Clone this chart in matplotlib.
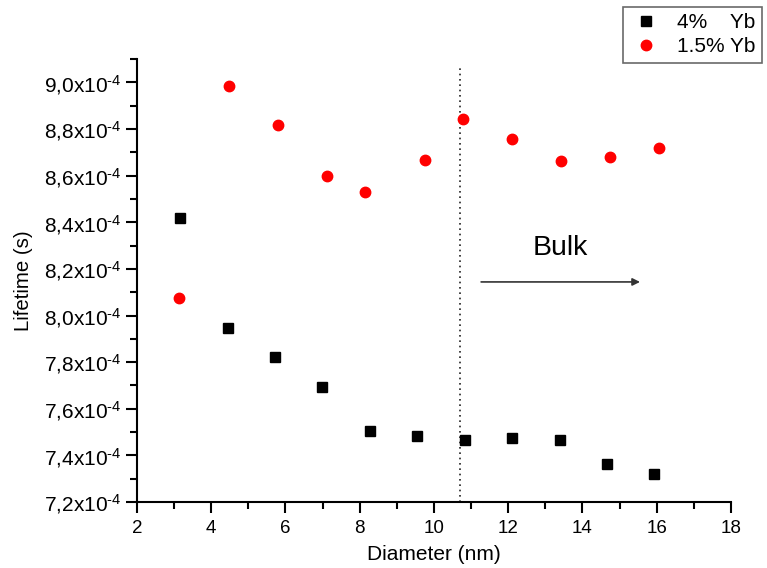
import numpy as np
import matplotlib
matplotlib.use("Agg")
import matplotlib.pyplot as plt
import matplotlib.ticker as mticker

# diameters (nm) and lifetimes (s)
d_4pct = [3.17, 4.45, 5.72, 6.99, 8.28, 9.55, 10.83, 12.10, 13.39, 14.66, 15.93]
tau_4pct = [8.417e-4, 7.946e-4, 7.823e-4, 7.693e-4, 7.504e-4, 7.485e-4, 7.466e-4,
            7.474e-4, 7.466e-4, 7.364e-4, 7.319e-4]
d_15pct = [3.14, 4.47, 5.79, 7.11, 8.13, 9.75, 10.77, 12.10, 13.41, 14.74, 16.06]
tau_15pct = [8.074e-4, 8.984e-4, 8.817e-4, 8.597e-4, 8.529e-4, 8.669e-4, 8.841e-4,
             8.759e-4, 8.664e-4, 8.679e-4, 8.720e-4]
labels = ["4%    Yb", "1.5% Yb"]
bulk_x = 10.69

plt.rcParams.update({
    "font.family": ["Liberation Sans", "DejaVu Sans"],
    "mathtext.fontset": "custom",
    "mathtext.rm": "Liberation Sans",
    "mathtext.it": "Liberation Sans",
    "font.size": 14,
})

fig = plt.figure(figsize=(7.67, 5.68), dpi=100)
ax = fig.add_axes([0.1786, 0.1162, 0.953 - 0.1786, 0.896 - 0.1162])

h1, = ax.plot(d_4pct, tau_4pct, "s", color="black", markersize=6.5, linestyle="none",
              label=labels[0], zorder=3)
h2, = ax.plot(d_15pct, tau_15pct, "o", color="#ff0000", markersize=7.5, linestyle="none",
              label=labels[1], zorder=3)

ax.plot([bulk_x, bulk_x], [7.2e-4, 9.07e-4], color="#222222", linestyle=(0, (1, 2.2)),
        linewidth=1.2, zorder=2)
ax.annotate("", xy=(15.55, 8.144e-4), xytext=(11.27, 8.144e-4),
            arrowprops=dict(arrowstyle="-|>", color="#333333", lw=1.2,
                            mutation_scale=11, shrinkA=0, shrinkB=0))
ax.text(13.39, 8.289e-4, "Bulk", fontsize=20.5, ha="center", va="center")

ax.set_xlim(2, 18)
ax.set_ylim(7.2e-4, 9.1e-4)
ax.xaxis.set_major_locator(mticker.MultipleLocator(2))
ax.xaxis.set_minor_locator(mticker.MultipleLocator(1))
ax.yaxis.set_major_locator(mticker.MultipleLocator(0.2e-4))
ax.yaxis.set_minor_locator(mticker.MultipleLocator(0.1e-4))
ax.yaxis.set_major_formatter(mticker.FuncFormatter(
    lambda v, _: (f"{v * 1e4:.1f}".replace(".", ",") + r"x10$^{\text{-4}}$")))

for spine in ("top", "right"):
    ax.spines[spine].set_visible(False)
for spine in ("left", "bottom"):
    ax.spines[spine].set_linewidth(1.5)
ax.tick_params(which="major", direction="out", length=8, width=1.5)
ax.tick_params(which="minor", direction="out", length=5, width=1.5)
ax.tick_params(axis="y", labelsize=15, pad=3)
ax.tick_params(axis="x", labelsize=13.5, pad=5)

ax.set_xlabel("Diameter (nm)", fontsize=15, labelpad=6)
ax.set_ylabel("Lifetime (s)", fontsize=14.7, labelpad=8)

leg = fig.legend(handles=[h1, h2], loc="upper left", bbox_to_anchor=(0.8123, 0.9877),
                 borderaxespad=0, fontsize=15, frameon=True, fancybox=False,
                 edgecolor="#444444", handletextpad=0.7, borderpad=0.3,
                 labelspacing=0.25, handlelength=1.6)
leg.get_frame().set_linewidth(1.2)

fig.savefig("out.png", dpi=100)
